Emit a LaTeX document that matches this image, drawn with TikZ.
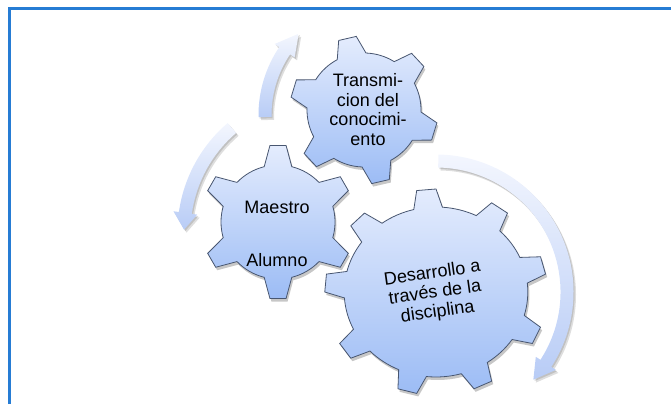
\documentclass[tikz,border=0pt]{standalone}
\usepackage{fontspec}
\setmainfont{Liberation Sans}
\definecolor{gtop}{RGB}{228,236,253}
\definecolor{gbot}{RGB}{156,188,245}
\definecolor{gline}{RGB}{72,86,112}
\definecolor{atop}{RGB}{243,246,254}
\definecolor{abot}{RGB}{184,204,246}
\definecolor{framecol}{RGB}{38,124,212}
% gear outline: #1 teeth, #2 first tooth angle, #3 inner radius, #4 outer radius, #5 tip half-angle, #6 base half-angle
\newcommand\gearpath[6]{({#2-#6}:#3) \foreach \k in {1,...,#1}{ -- ({#2+(\k-1)*360/#1-#5}:#4) -- ({#2+(\k-1)*360/#1+#5}:#4) -- ({#2+(\k-1)*360/#1+#6}:#3) arc[start angle={#2+(\k-1)*360/#1+#6}, end angle={#2+\k*360/#1-#6}, radius=#3] } -- cycle}
% curved block arrow: #1 radius, #2 start angle, #3 head base angle, #4 tip angle
\newcommand\arrowshape[4]{({#2}:{#1+6.5}) arc[start angle={#2}, end angle={#3}, radius={#1+6.5}] -- ({#3}:{#1+12}) -- ({#4}:{#1}) -- ({#3}:{#1-12}) -- ({#3}:{#1-6.5}) arc[start angle={#3}, end angle={#2}, radius={#1-6.5}] -- cycle}
\tikzset{
  gearbody/.style={draw=gline, line width=0.8pt, top color=gtop, bottom color=gbot},
  gearshadow/.style={fill=black, opacity=0.22},
  arrowbody/.style={top color=atop, bottom color=abot},
  arrowshadow/.style={fill=black, opacity=0.13},
  gtext/.style={font=\fontsize{18}{19.5}\selectfont, align=center, text=black, inner sep=0pt}
}
\begin{document}
\begin{tikzpicture}[x=1pt,y=1pt]
\useasboundingbox (0,0) rectangle (671,404);
% frame
\draw[framecol, line width=2.2pt] (9.5,0) -- (9.5,395.5) -- (671,395.5);
% arrows
\begin{scope}[shift={(380,289)}]
  \path[arrowshadow, shift={(2.5,-3)}] \arrowshape{115}{181}{146}{135};
  \path[arrowshadow, shift={(1.2,-1.5)}] \arrowshape{115}{181}{146}{135};
  \path[arrowbody] \arrowshape{115}{181}{146}{135};
\end{scope}
\begin{scope}[shift={(321,172)}]
  \path[arrowshadow, shift={(2.5,-3)}] \arrowshape{137}{130.6}{172}{179};
  \path[arrowshadow, shift={(1.2,-1.5)}] \arrowshape{137}{130.6}{172}{179};
  \path[arrowbody] \arrowshape{137}{130.6}{172}{179};
\end{scope}
\begin{scope}[shift={(436,112)}]
  \path[arrowshadow, shift={(2.5,-3)}] \arrowshape{131}{89}{-33}{-42};
  \path[arrowshadow, shift={(1.2,-1.5)}] \arrowshape{131}{89}{-33}{-42};
  \path[arrowbody] \arrowshape{131}{89}{-33}{-42};
\end{scope}
% big gear
\begin{scope}[shift={(436,112)}, xscale=1.08]
  \path[gearshadow, shift={(1.5,-3)}] \gearpath{9}{95}{85}{103}{5}{9};
  \path[gearbody] \gearpath{9}{95}{85}{103}{5}{9};
\end{scope}
% Maestro gear
\begin{scope}[shift={(278,182)}]
  \path[gearshadow, shift={(1.5,-3)}] \gearpath{6}{90}{57}{77}{6}{14};
  \path[gearbody] \gearpath{6}{90}{57}{77}{6}{14};
\end{scope}
% top gear
\begin{scope}[shift={(364,294)}]
  \path[gearshadow, shift={(1.5,-3)}] \gearpath{6}{103}{57}{74}{7}{15};
  \path[gearbody] \gearpath{6}{103}{57}{74}{7}{15};
\end{scope}
% texts
\node[gtext] (trans) at (368,294.5) {Transmi-\\cion del\\conocimi-\\ento};
\node[gtext] (maestro) at (277,197) {Maestro};
\node[gtext] (alumno) at (277,144) {Alumno};
\node[gtext, rotate=8] (desarrollo) at (435,111) {Desarrollo a\\través de la\\disciplina};
\end{tikzpicture}
\end{document}
